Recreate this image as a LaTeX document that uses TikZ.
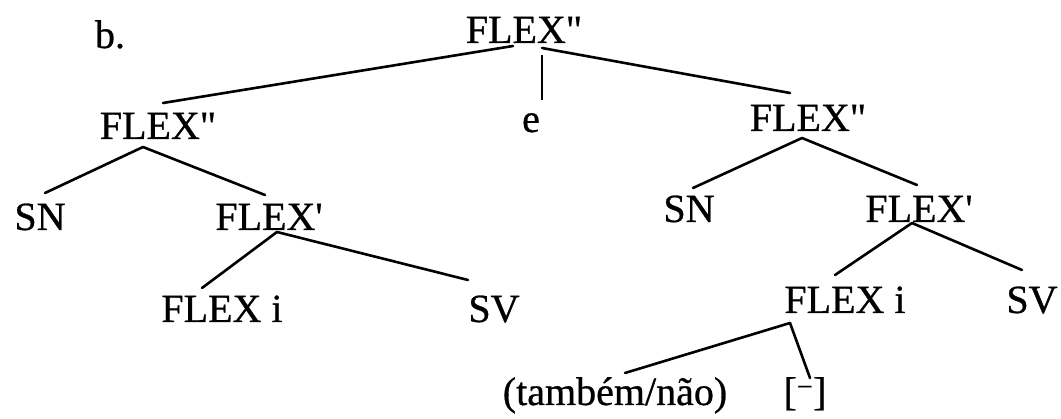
\documentclass[tikz,border=0pt]{standalone}
\usepackage{fontspec}
\newfontfamily\treefont{Liberation Serif}[FakeBold=0.7]
\usepackage{tikz}
\usetikzlibrary{calc}

\begin{document}
\begin{tikzpicture}[x=1pt,y=-1pt,
  lab/.style={anchor=base,inner sep=0pt,font=\treefont\fontsize{40}{48}\selectfont},
  branch/.style={line width=2.6pt,line cap=round}]
\useasboundingbox (0,0) rectangle (1061,419);
\node[lab] (lbl) at (110,48) {b.};
\node[lab] (top) at (524,43) {FLEX"};
\node[lab] (e) at (531,132) {e};
% left half
\node[lab] (lf2) at (158,139) {FLEX"};
\node[lab] (lsn) at (40,230) {SN};
\node[lab] (lf1) at (269,230) {FLEX'};
\node[lab] (lfi) at (222,322) {FLEX i};
\node[lab] (lsv) at (494,322) {SV};
% right half
\node[lab] (rf2) at (808,131) {FLEX"};
\node[lab] (rsn) at (689,222) {SN};
\node[lab] (rf1) at (919,222) {FLEX'};
\node[lab] (rfi) at (845,313) {FLEX i};
\node[lab] (rsv) at (1032,313) {SV};
\node[lab] (tam) at (615,405) {(também/não)};
\node[lab] (neg) at (805,405) {[\textsuperscript{−}]};

\draw[branch] ($(top.base)+(-11,3)$) -- ($(lf2.base)+(5,-36)$);
\draw[branch] ($(top.base)+(18,5)$) -- ($(rf2.base)+(-18,-38)$);
\draw[line width=1.6pt] ($(top.base)+(18,12)$) -- ($(e.base)+(11,-32)$);
\draw[branch] ($(lf2.base)+(-15,8)$) -- ($(lsn.base)+(5,-37)$);
\draw[branch] ($(lf2.base)+(-15,8)$) -- ($(lf1.base)+(-4,-35)$);
\draw[branch] ($(lf1.base)+(8,2)$) -- ($(lfi.base)+(-20,-34)$);
\draw[branch] ($(lf1.base)+(8,2)$) -- ($(lsv.base)+(-26,-42)$);
\draw[branch] ($(rf2.base)+(-6,7)$) -- ($(rsn.base)+(4,-34)$);
\draw[branch] ($(rf2.base)+(-6,7)$) -- ($(rf1.base)+(-2,-37)$);
\draw[branch] ($(rf1.base)+(-7,1)$) -- ($(rfi.base)+(-10,-38)$);
\draw[branch] ($(rf1.base)+(-7,1)$) -- ($(rsv.base)+(-10,-43)$);
\draw[branch] ($(rfi.base)+(-55,10)$) -- ($(tam.base)+(10,-32)$);
\draw[branch] ($(rfi.base)+(-55,10)$) -- ($(neg.base)+(5,-27)$);
\end{tikzpicture}
\end{document}
